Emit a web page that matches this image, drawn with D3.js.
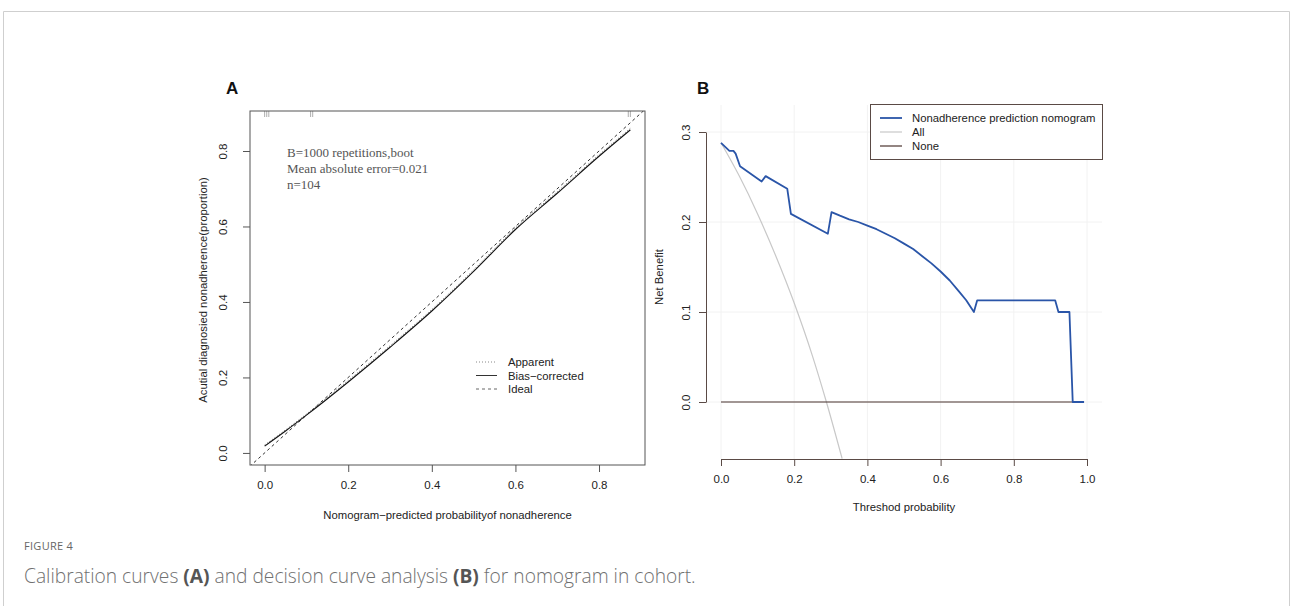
<!DOCTYPE html>
<html>
<head>
<meta charset="utf-8">
<script src="https://cdn.jsdelivr.net/npm/d3@7"></script>
<style>
	body{margin:0;background:#fff;}
	svg{display:block;}
</style>
</head>
<body>
<div id="fig"></div>
<script>
// calibration (panel A)
const calPred = [0.0, 0.05, 0.1, 0.2, 0.3, 0.4, 0.5, 0.6, 0.7, 0.8, 0.875];
const calBias = [0.018, 0.058, 0.100, 0.188, 0.280, 0.376, 0.481, 0.592, 0.688, 0.786, 0.856];
const calApparent = [0.021, 0.061, 0.103, 0.192, 0.284, 0.380, 0.485, 0.596, 0.692, 0.790, 0.860];
const rugPred = [0.0, 0.005, 0.01, 0.11, 0.115, 0.87, 0.875];
const calTicks = [0, 0.2, 0.4, 0.6, 0.8];
const calLegend = ['Apparent', 'Bias\u2212corrected', 'Ideal'];
const calNotes = ['B=1000 repetitions,boot', 'Mean absolute error=0.021', 'n=104'];

// decision curve (panel B)
const thrModel = [0.0, 0.023, 0.034, 0.040, 0.052, 0.111, 0.122, 0.181, 0.191, 0.292, 0.302, 0.325, 0.35, 0.375, 0.40, 0.425, 0.45, 0.475, 0.50, 0.525, 0.55, 0.575, 0.60, 0.625, 0.65, 0.67, 0.691, 0.700, 0.913, 0.922, 0.952, 0.961, 0.992];
const nbModel = [0.288, 0.279, 0.279, 0.276, 0.262, 0.245, 0.251, 0.237, 0.209, 0.187, 0.211, 0.207, 0.203, 0.200, 0.196, 0.192, 0.187, 0.182, 0.176, 0.170, 0.162, 0.154, 0.145, 0.135, 0.123, 0.113, 0.100, 0.113, 0.113, 0.100, 0.100, 0.0, 0.0];
const thrAll = [0.0, 0.05, 0.10, 0.15, 0.20, 0.25, 0.288, 0.331];
const nbAll = [0.288, 0.251, 0.209, 0.162, 0.110, 0.051, 0.0, -0.063];
const thrNone = [0.0, 0.99];
const nbNone = [0.0, 0.0];
const dcaXTicks = [0, 0.2, 0.4, 0.6, 0.8, 1.0];
const dcaYTicks = [0, 0.1, 0.2, 0.3];
const dcaLegend = ['Nonadherence prediction nomogram', 'All', 'None'];
const dcaColors = ['#2a55a8', '#c8c8c8', '#4b3530'];

const W = 1293, H = 606;
const FS = '11.5px';
const svg = d3.select('#fig').append('svg').attr('width', W).attr('height', H)
	.style('font-family', 'Liberation Sans, Arial, sans-serif');

// outer frame (open at bottom)
svg.append('path')
	.attr('d', 'M3.5,' + H + 'V11.5H1289.5V' + H)
	.attr('fill', 'none').attr('stroke', '#cfcfcf').attr('stroke-width', 1);

function fmt(v){ return d3.format('.1f')(v); }

/* ---------- panel A ---------- */
function drawCalibration(){
	const box = {left:250, right:645, top:111, bottom:465};
	const x = d3.scaleLinear().domain([-0.035, 0.91]).range([box.left, box.right]);
	const y = d3.scaleLinear().domain([-0.032, 0.906]).range([box.bottom, box.top]);
	const g = svg.append('g');

	g.append('defs').append('clipPath').attr('id', 'clipA')
		.append('rect').attr('x', box.left).attr('y', box.top)
		.attr('width', box.right - box.left).attr('height', box.bottom - box.top);

	g.append('text').attr('x', 226).attr('y', 94).text('A')
		.style('font-weight', 'bold').style('font-size', '17px').attr('fill', '#111');

	// rug of predictions at top
	rugPred.forEach(function(p){
		g.append('line').attr('x1', x(p)).attr('x2', x(p))
			.attr('y1', box.top).attr('y2', box.top + 6)
			.attr('stroke', '#999').attr('stroke-width', 0.8);
	});

	// ideal line
	g.append('line').attr('clip-path', 'url(#clipA)')
		.attr('x1', x(-0.1)).attr('y1', y(-0.1)).attr('x2', x(1)).attr('y2', y(1))
		.attr('stroke', '#333').attr('stroke-width', 1).attr('stroke-dasharray', '3,3');

	const line = d3.line().x(d => x(d[0])).y(d => y(d[1])).curve(d3.curveMonotoneX);
	g.append('path').datum(calPred.map((p, i) => [p, calApparent[i]]))
		.attr('d', line).attr('fill', 'none').attr('stroke', '#666')
		.attr('stroke-width', 1).attr('stroke-dasharray', '1,2');
	g.append('path').datum(calPred.map((p, i) => [p, calBias[i]]))
		.attr('d', line).attr('fill', 'none').attr('stroke', '#111').attr('stroke-width', 1.1);

	// box
	g.append('rect').attr('x', box.left).attr('y', box.top)
		.attr('width', box.right - box.left).attr('height', box.bottom - box.top)
		.attr('fill', 'none').attr('stroke', '#555').attr('stroke-width', 1);

	// x axis
	const xa = g.append('g').attr('transform', 'translate(0,' + box.bottom + ')')
		.call(d3.axisBottom(x).tickValues(calTicks).tickFormat(fmt).tickSize(7).tickPadding(9));
	xa.select('.domain').remove();
	xa.selectAll('line').attr('stroke', '#555');
	xa.selectAll('text').style('font-size', FS).attr('fill', '#222')
		.style('font-family', 'Liberation Sans, Arial, sans-serif');

	// y axis
	const ya = g.append('g').attr('transform', 'translate(' + box.left + ',0)')
		.call(d3.axisLeft(y).tickValues(calTicks).tickFormat(fmt).tickSize(7).tickPadding(0));
	ya.select('.domain').remove();
	ya.selectAll('line').attr('stroke', '#555');
	ya.selectAll('text').attr('x', 0).attr('dy', 0)
		.attr('transform', 'translate(-23,0) rotate(-90)')
		.attr('text-anchor', 'middle')
		.style('font-size', FS).attr('fill', '#222')
		.style('font-family', 'Liberation Sans, Arial, sans-serif');

	g.append('text').attr('x', (box.left + box.right) / 2).attr('y', 519)
		.attr('text-anchor', 'middle').style('font-size', '11.3px').attr('fill', '#222')
		.text('Nomogram\u2212predicted probabilityof nonadherence');
	g.append('text').attr('transform', 'translate(207,' + ((box.top + box.bottom) / 2 + 2) + ') rotate(-90)')
		.attr('text-anchor', 'middle').style('font-size', '11.3px').attr('fill', '#222')
		.text('Acutial diagnosied nonadherence(proportion)');

	// notes
	calNotes.forEach(function(t, i){
		g.append('text').attr('x', 287).attr('y', 157 + i * 16).text(t)
			.style('font-family', 'Liberation Serif, Times New Roman, serif')
			.style('font-size', '13px').attr('fill', '#555');
	});

	// legend
	const dash = ['1,2', null, '3,3'];
	const lcol = ['#888', '#333', '#666'];
	calLegend.forEach(function(t, i){
		const yy = 362 + i * 13.5;
		g.append('line').attr('x1', 476).attr('x2', 497).attr('y1', yy).attr('y2', yy)
			.attr('stroke', lcol[i]).attr('stroke-width', 1)
			.attr('stroke-dasharray', dash[i]);
		g.append('text').attr('x', 508).attr('y', yy + 4).text(t)
			.style('font-size', '11.3px').attr('fill', '#222');
	});
}

/* ---------- panel B ---------- */
function drawDCA(){
	const plot = {left:706, right:1102, top:105, bottom:459};
	const x = d3.scaleLinear().domain([0, 1]).range([721, 1087]);
	const y = d3.scaleLinear().domain([0, 0.3]).range([402, 132]);
	const g = svg.append('g');

	g.append('text').attr('x', 697).attr('y', 94).text('B')
		.style('font-weight', 'bold').style('font-size', '17px').attr('fill', '#111');

	// grid
	dcaXTicks.forEach(function(t){
		g.append('line').attr('x1', x(t)).attr('x2', x(t)).attr('y1', plot.top).attr('y2', plot.bottom)
			.attr('stroke', '#f2f2f2').attr('stroke-width', 1);
	});
	dcaYTicks.forEach(function(t){
		g.append('line').attr('x1', plot.left).attr('x2', plot.right).attr('y1', y(t)).attr('y2', y(t))
			.attr('stroke', '#f2f2f2').attr('stroke-width', 1);
	});

	const smooth = d3.line().x(d => x(d[0])).y(d => y(d[1])).curve(d3.curveMonotoneX);
	const line = d3.line().x(d => x(d[0])).y(d => y(d[1]));
	g.append('path').datum(thrAll.map((t, i) => [t, nbAll[i]]))
		.attr('d', smooth).attr('fill', 'none')
		.attr('stroke', dcaColors[1]).attr('stroke-width', 1.2);
	g.append('path').datum(thrNone.map((t, i) => [t, nbNone[i]]))
		.attr('d', line).attr('fill', 'none').attr('stroke', dcaColors[2]).attr('stroke-width', 1.2);
	g.append('path').datum(thrModel.map((t, i) => [t, nbModel[i]]))
		.attr('d', line).attr('fill', 'none').attr('stroke', dcaColors[0]).attr('stroke-width', 1.8)
		.attr('stroke-linejoin', 'round');

	// axes
	const xa = g.append('g').attr('transform', 'translate(0,' + plot.bottom + ')')
		.call(d3.axisBottom(x).tickValues(dcaXTicks).tickFormat(fmt).tickSize(7).tickSizeOuter(0).tickPadding(9));
	xa.select('.domain').attr('stroke', '#5a4a45');
	xa.selectAll('line').attr('stroke', '#5a4a45');
	xa.selectAll('text').style('font-size', FS).attr('fill', '#222')
		.style('font-family', 'Liberation Sans, Arial, sans-serif');

	const ya = g.append('g').attr('transform', 'translate(' + plot.left + ',0)')
		.call(d3.axisLeft(y).tickValues(dcaYTicks).tickFormat(fmt).tickSize(7).tickSizeOuter(0).tickPadding(0));
	ya.select('.domain').attr('stroke', '#5a4a45');
	ya.selectAll('line').attr('stroke', '#5a4a45');
	ya.selectAll('text').attr('x', 0).attr('dy', 0)
		.attr('transform', 'translate(-16,0) rotate(-90)')
		.attr('text-anchor', 'middle')
		.style('font-size', FS).attr('fill', '#222')
		.style('font-family', 'Liberation Sans, Arial, sans-serif');

	g.append('text').attr('x', 904).attr('y', 511).attr('text-anchor', 'middle')
		.style('font-size', '11.3px').attr('fill', '#222').text('Threshod probability');
	g.append('text').attr('transform', 'translate(663,277) rotate(-90)')
		.attr('text-anchor', 'middle').style('font-size', '11.3px').attr('fill', '#222')
		.text('Net Benefit');

	// legend
	g.append('rect').attr('x', 870.5).attr('y', 104.5).attr('width', 232).attr('height', 55)
		.attr('fill', '#fff').attr('stroke', '#5a4a45').attr('stroke-width', 1);
	dcaLegend.forEach(function(t, i){
		const yy = 118 + i * 14;
		g.append('line').attr('x1', 880).attr('x2', 902).attr('y1', yy).attr('y2', yy)
			.attr('stroke', dcaColors[i]).attr('stroke-width', i === 0 ? 1.8 : 1.2);
		g.append('text').attr('x', 912).attr('y', yy + 4).text(t)
			.style('font-size', '11.3px').attr('fill', '#222');
	});
}

drawCalibration();
drawDCA();

// caption
svg.append('text').attr('x', 24).attr('y', 550).text('FIGURE 4')
	.style('font-family', 'Open Sans, sans-serif').style('font-size', '11px')
	.attr('fill', '#666').style('letter-spacing', '0.3px');
const cap = svg.append('text').attr('x', 24).attr('y', 583)
	.style('font-family', 'Open Sans, sans-serif').style('font-size', '19.2px')
	.style('font-weight', 300).attr('fill', '#707070');
cap.append('tspan').text('Calibration curves ');
cap.append('tspan').text('(A)').style('font-weight', 'bold').attr('fill', '#555');
cap.append('tspan').text(' and decision curve analysis ');
cap.append('tspan').text('(B)').style('font-weight', 'bold').attr('fill', '#555');
cap.append('tspan').text(' for nomogram in cohort.');
</script>
</body>
</html>
